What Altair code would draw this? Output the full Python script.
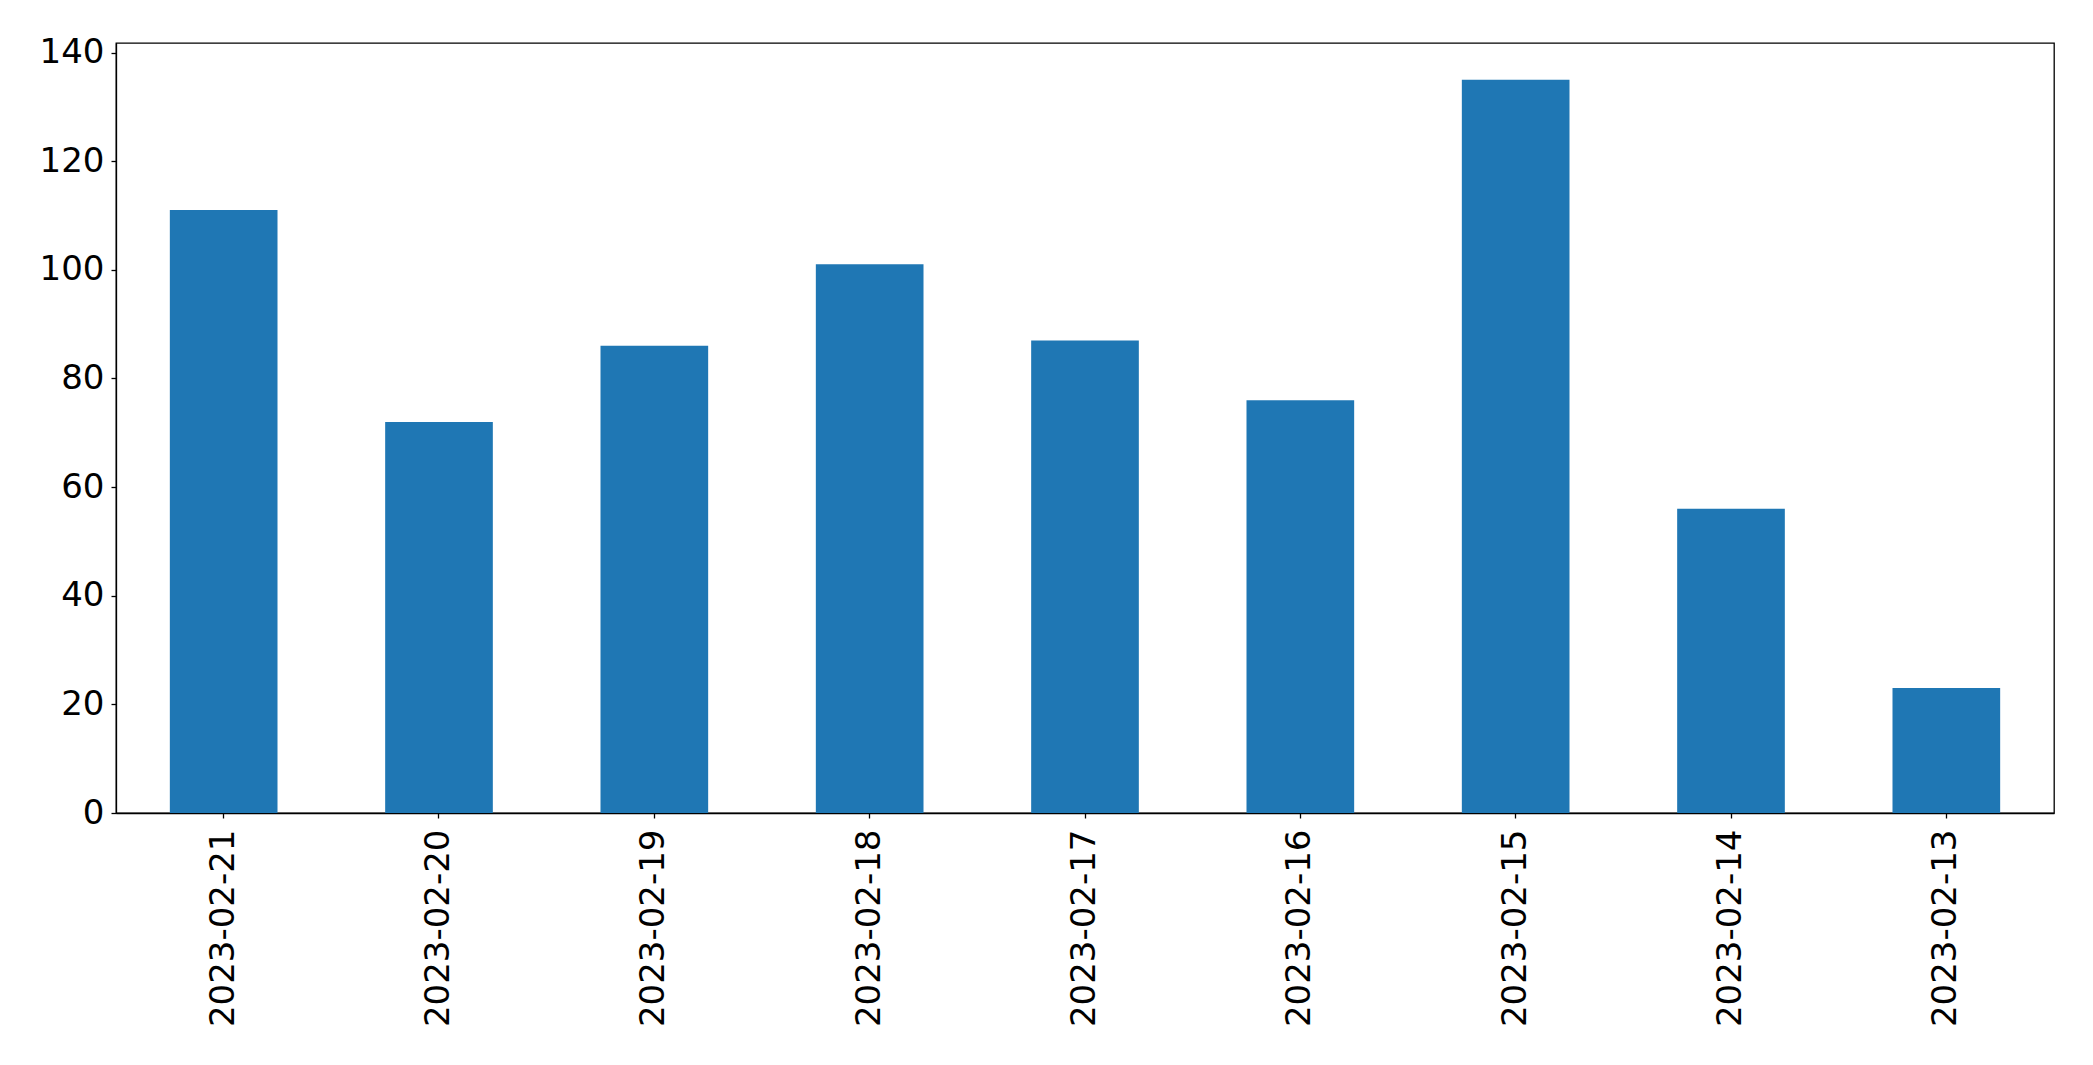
import altair as alt
import pandas as pd

dates = ["2023-02-21", "2023-02-20", "2023-02-19", "2023-02-18", "2023-02-17",
         "2023-02-16", "2023-02-15", "2023-02-14", "2023-02-13"]
counts = [111, 72, 86, 101, 87, 76, 135, 56, 23]
y_ticks = [0, 20, 40, 60, 80, 100, 120, 140]

df = pd.DataFrame({"date": dates, "count": counts})

chart = alt.Chart(df).mark_bar(color="#1f77b4").encode(
    x=alt.X("date:N", sort=dates, title=None,
            scale=alt.Scale(paddingInner=0.5, paddingOuter=0.25),
            axis=alt.Axis(labelAngle=270, labelFontSize=34, labelFont="DejaVu Sans",
                          labelColor="black", tickColor="black", tickSize=5,
                          tickWidth=1.3, labelPadding=11, domainColor="black",
                          domainWidth=1.3, labelAlign="right", labelBaseline="middle",
                          labelLimit=0)),
    y=alt.Y("count:Q", title=None,
            scale=alt.Scale(domain=[0, 141.75], nice=False),
            axis=alt.Axis(values=y_ticks, grid=False, labelFontSize=34,
                          labelFont="DejaVu Sans", labelColor="black",
                          tickColor="black", tickSize=5, tickWidth=1.3,
                          labelPadding=7, domainColor="black", domainWidth=1.3)),
).properties(
    width=1938, height=770,
    autosize=alt.AutoSizeParams(type="none"),
    padding={"left": 108, "top": 35, "right": 30, "bottom": 240},
).configure_view(stroke="black", strokeWidth=1.3)

chart.save("out.html", embed_options={"renderer": "svg", "actions": False})
